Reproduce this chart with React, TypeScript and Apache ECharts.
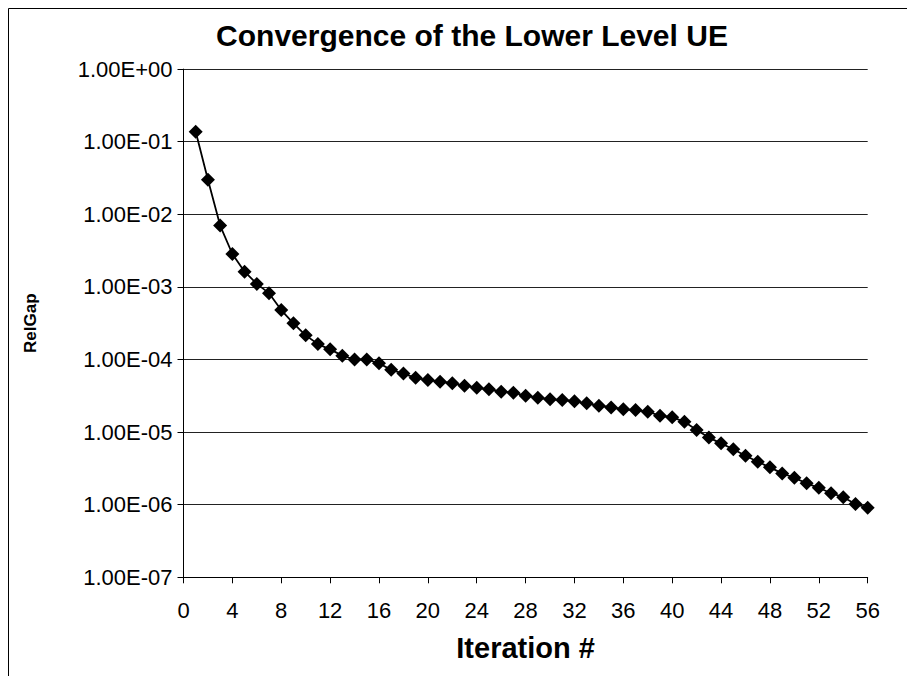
import React, { useEffect, useRef } from "react";
import * as echarts from "echarts";

const titleText = "Convergence of the Lower Level UE";
const xAxisName = "Iteration #";
const yAxisName = "RelGap";

const iterations = [
  1, 2, 3, 4, 5, 6, 7, 8, 9, 10, 11, 12, 13, 14, 15, 16, 17, 18, 19, 20, 21, 22, 23, 24, 25, 26, 27, 28,
  29, 30, 31, 32, 33, 34, 35, 36, 37, 38, 39, 40, 41, 42, 43, 44, 45, 46, 47, 48, 49, 50, 51, 52, 53, 54,
  55, 56,
];

const relGap = [
  1.37e-1, 3.0e-2, 7.0e-3, 2.84e-3, 1.62e-3, 1.1e-3, 8.2e-4, 4.8e-4, 3.15e-4, 2.15e-4, 1.63e-4, 1.38e-4,
  1.13e-4, 1.0e-4, 1.0e-4, 8.9e-5, 7.2e-5, 6.4e-5, 5.6e-5, 5.2e-5, 4.95e-5, 4.7e-5, 4.36e-5, 4.09e-5,
  3.89e-5, 3.6e-5, 3.49e-5, 3.17e-5, 2.98e-5, 2.83e-5, 2.77e-5, 2.65e-5, 2.49e-5, 2.31e-5, 2.19e-5,
  2.06e-5, 2.01e-5, 1.91e-5, 1.68e-5, 1.6e-5, 1.39e-5, 1.07e-5, 8.4e-6, 7.0e-6, 5.8e-6, 4.73e-6, 3.91e-6,
  3.27e-6, 2.7e-6, 2.35e-6, 1.97e-6, 1.71e-6, 1.44e-6, 1.27e-6, 1.02e-6, 9.1e-7,
];

const yTickLabels = [
  "1.00E-07",
  "1.00E-06",
  "1.00E-05",
  "1.00E-04",
  "1.00E-03",
  "1.00E-02",
  "1.00E-01",
  "1.00E+00",
];

const FONT = "'Liberation Sans', Arial, sans-serif";

export default function App() {
  const ref = useRef<HTMLDivElement>(null);
  useEffect(() => {
    if (!ref.current) return;
    const chart = echarts.init(ref.current, null, { renderer: "svg" });
    chart.setOption({
      animation: false,
      backgroundColor: "#ffffff",
      textStyle: { fontFamily: FONT },
      grid: { left: 183.5, right: 39.3, top: 69.1, bottom: 98.7, containLabel: false },
      graphic: [
        {
          type: "polyline",
          shape: { points: [[8.5, 700], [8.5, 8.5], [1000, 8.5]] },
          style: { stroke: "#000", lineWidth: 1, fill: "none" },
          silent: true,
        },
        {
          type: "text",
          x: 472,
          y: 35,
          style: {
            text: titleText,
            font: `bold 30px ${FONT}`,
            fill: "#000",
            textAlign: "center",
            textVerticalAlign: "middle",
          },
        },
      ],
      xAxis: {
        type: "value",
        min: 0,
        max: 56,
        interval: 4,
        name: xAxisName,
        nameLocation: "middle",
        nameGap: 56,
        nameTextStyle: { fontFamily: FONT, fontSize: 29, fontWeight: "bold", color: "#000" },
        axisLine: { show: true, onZero: false, lineStyle: { color: "#000", width: 1 } },
        axisTick: { show: true, inside: false, length: 6, lineStyle: { color: "#000" } },
        axisLabel: { fontFamily: FONT, fontSize: 22, color: "#000", margin: 22 },
        splitLine: { show: false },
      },
      yAxis: {
        type: "log",
        logBase: 10,
        min: 1e-7,
        max: 1,
        interval: 1,
        name: yAxisName,
        nameLocation: "middle",
        nameGap: 145,
        nameRotate: 90,
        nameTextStyle: { fontFamily: FONT, fontSize: 17, fontWeight: "bold", color: "#000" },
        axisLine: { show: true, lineStyle: { color: "#000", width: 1 } },
        axisTick: { show: true, inside: false, length: 6, lineStyle: { color: "#000" } },
        axisLabel: {
          fontFamily: FONT,
          fontSize: 22,
          color: "#000",
          margin: 11,
          formatter: (v: number) => {
            const e = Math.round(Math.log10(v));
            return yTickLabels[e + 7] ?? "";
          },
        },
        splitLine: { show: true, lineStyle: { color: "#222", width: 1 } },
        minorTick: { show: false },
      },
      series: [
        {
          type: "line",
          data: iterations.map((x, i) => [x, relGap[i]]),
          symbol: "diamond",
          symbolSize: 14,
          showAllSymbol: true,
          lineStyle: { color: "#000", width: 1.8 },
          itemStyle: { color: "#000" },
        },
      ],
    });
    return () => chart.dispose();
  }, []);
  return (
    <div
      ref={ref}
      style={{ position: "absolute", left: 0, top: 0, width: 907, height: 676 }}
    />
  );
}
